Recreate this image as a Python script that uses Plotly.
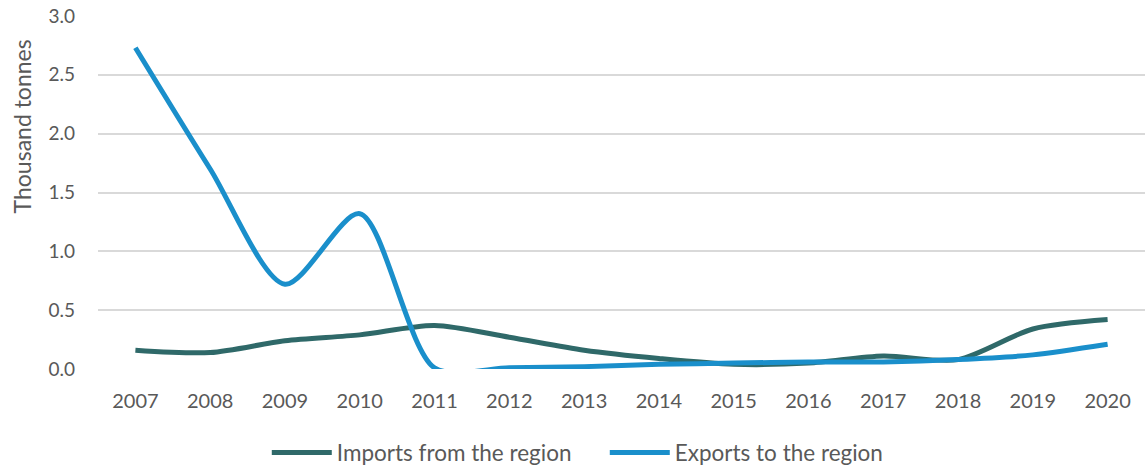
import plotly.graph_objects as go

years = ["2007", "2008", "2009", "2010", "2011", "2012", "2013",
         "2014", "2015", "2016", "2017", "2018", "2019", "2020"]
imports_from_region = [0.16, 0.14, 0.24, 0.29, 0.37, 0.27, 0.16,
                       0.09, 0.04, 0.05, 0.11, 0.08, 0.34, 0.42]
exports_to_region = [2.73, 1.70, 0.72, 1.32, 0.01, 0.01, 0.02,
                     0.04, 0.05, 0.06, 0.06, 0.08, 0.12, 0.21]

font_family = "Lato, 'Open Sans', sans-serif"
text_color = "#595959"

fig = go.Figure()
fig.add_trace(go.Scatter(
    x=years, y=imports_from_region, name="Imports from the region",
    mode="lines", line=dict(color="#2F6969", width=5, shape="spline", smoothing=0.8),
))
fig.add_trace(go.Scatter(
    x=years, y=exports_to_region, name="Exports to the region",
    mode="lines", line=dict(color="#1A8FCB", width=5, shape="spline", smoothing=0.8),
))

fig.update_layout(
    width=1145, height=467,
    margin=dict(l=98, r=0, t=16, b=98, autoexpand=False),
    paper_bgcolor="white", plot_bgcolor="white",
    font=dict(family=font_family, color=text_color, size=19),
    showlegend=True,
    legend=dict(orientation="h", xref="container", x=0.233, xanchor="left",
                yref="container", y=0.03, yanchor="middle",
                font=dict(size=22.5, color=text_color), itemwidth=60,
                entrywidth=263, entrywidthmode="pixels", tracegroupgap=0),
    annotations=[dict(
        text="Thousand tonnes", textangle=-90, showarrow=False,
        xref="paper", yref="paper", x=-0.073, y=0.686,
        xanchor="center", yanchor="middle",
        font=dict(size=23, color=text_color),
    )],
)
fig.update_xaxes(
    type="category", range=[-0.5, 13.5], showgrid=False, zeroline=False,
    showline=False, ticks="", ticklabelstandoff=18,
    tickfont=dict(size=20, color=text_color),
)
fig.update_yaxes(
    range=[0, 3.0], dtick=0.5, tickformat=".1f", showgrid=True,
    gridcolor="#D9D9D9", gridwidth=1.5, zeroline=False, showline=False,
    ticks="", ticklabelstandoff=22,
    tickfont=dict(size=19, color=text_color),
)

fig.write_html("out.html")
